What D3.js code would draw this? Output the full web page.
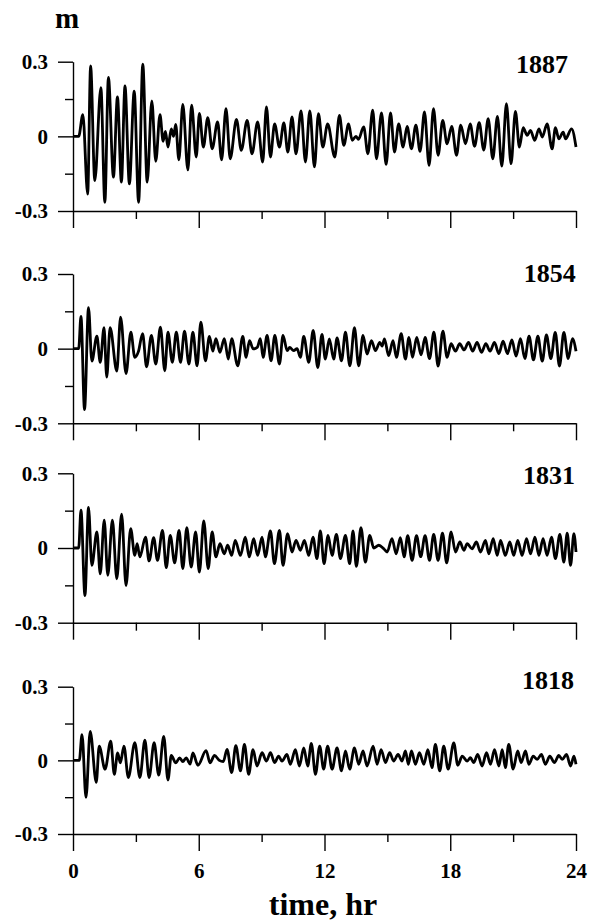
<!DOCTYPE html>
<html lang="en">
<head>
<meta charset="UTF-8">
<title>Simulated tide records, four panels</title>
<script src="https://d3js.org/d3.v7.min.js"></script>
<style>
  body { margin: 0; background: #fff; overflow: hidden; }
  text { font-family: "Liberation Serif", "Times New Roman", serif; font-weight: bold; fill: #000; }
  .trace { fill: none; stroke: #000; stroke-width: 2.8; stroke-linejoin: round; }
</style>
</head>
<body>
<svg width="589" height="922"></svg>
<script>
// panel names (years) top to bottom
var panelNames = ["1887", "1854", "1831", "1818"];

// readings [hour, metres], peaks and troughs
var tide1887 = [[0,0],[0.27,0],[0.47,0.087],[0.70,-0.232],[0.84,0.283],[1.04,-0.178],[1.33,0.196],[1.52,-0.265],[1.69,0.237],[1.93,-0.164],[2.12,0.159],[2.31,-0.184],[2.48,0.203],[2.69,-0.191],[2.92,0.182],[3.13,-0.265],[3.33,0.290],[3.54,-0.184],[3.76,0.142],[3.95,-0.10],[4.15,0.087],[4.30,-0.02],[4.41,0.02],[4.53,-0.043],[4.69,0.03],[4.80,0.0],[4.90,0.048],[5.05,-0.094],[5.24,0.128],[5.48,-0.135],[5.66,0.125],[5.88,-0.083],[6.03,0.092],[6.22,-0.043],[6.43,0.075],[6.64,-0.05],[6.90,0.058],[7.09,-0.094],[7.30,0.111],[7.50,-0.09],[7.80,0.068],[8.03,-0.056],[8.31,0.064],[8.54,-0.07],[8.81,0.058],[9.05,-0.103],[9.23,0.118],[9.42,-0.083],[9.62,0.05],[9.85,-0.043],[10.06,0.054],[10.25,-0.063],[10.45,0.078],[10.64,-0.07],[10.88,0.102],[11.09,-0.103],[11.30,0.102],[11.52,-0.123],[11.71,0.091],[11.92,-0.043],[12.15,0.05],[12.49,-0.083],[12.71,0.084],[12.92,-0.036],[13.15,0.05],[13.32,-0.016],[13.50,0.0],[13.62,-0.012],[13.87,0.038],[14.07,-0.07],[14.30,0.105],[14.48,-0.09],[14.72,0.094],[14.94,-0.113],[15.15,0.094],[15.34,-0.063],[15.54,0.05],[15.75,-0.043],[15.94,0.04],[16.15,-0.05],[16.36,0.045],[16.56,-0.06],[16.77,0.098],[16.99,-0.117],[17.20,0.111],[17.42,-0.076],[17.64,0.064],[17.85,-0.03],[18.07,0.04],[18.30,-0.076],[18.50,0.045],[18.73,-0.03],[18.95,0.05],[19.16,-0.04],[19.38,0.055],[19.60,-0.055],[19.81,0.071],[20.03,-0.09],[20.25,0.08],[20.46,-0.12],[20.68,0.131],[20.90,-0.11],[21.11,0.10],[21.30,-0.043],[21.48,0.035],[21.67,0.004],[21.83,0.024],[22.03,-0.016],[22.23,0.03],[22.39,-0.003],[22.62,0.05],[22.86,-0.05],[23.02,0.035],[23.18,-0.01],[23.39,0.017],[23.50,-0.01],[23.79,0.03],[24.0,-0.043]];

var tide1854 = [[0,0],[0.27,0],[0.38,0.13],[0.55,-0.245],[0.74,0.165],[0.90,-0.05],[1.14,0.05],[1.30,-0.055],[1.48,0.084],[1.61,-0.114],[1.77,0.084],[2.09,-0.09],[2.27,0.127],[2.53,-0.10],[2.76,0.066],[2.95,-0.035],[3.12,-0.012],[3.32,0.06],[3.51,-0.073],[3.74,0.053],[3.95,-0.062],[4.17,0.086],[4.38,-0.089],[4.53,0.066],[4.74,-0.055],[4.93,0.066],[5.13,-0.055],[5.32,0.07],[5.53,-0.062],[5.72,0.066],[5.92,-0.069],[6.10,0.107],[6.32,-0.049],[6.51,0.049],[6.67,-0.01],[6.82,0.04],[7.01,-0.015],[7.22,0.04],[7.41,-0.042],[7.57,0.04],[7.86,-0.069],[8.10,0.049],[8.26,-0.035],[8.42,0.032],[8.60,-0.001],[8.79,0.005],[8.94,0.04],[9.07,-0.035],[9.26,0.053],[9.45,-0.049],[9.63,0.053],[9.85,-0.062],[10.02,0.053],[10.22,-0.008],[10.34,0.005],[10.53,-0.008],[10.69,0.0],[10.85,-0.035],[11.01,0.049],[11.25,-0.055],[11.46,0.073],[11.68,-0.076],[11.88,0.057],[12.04,-0.042],[12.23,0.039],[12.44,-0.042],[12.60,0.043],[12.81,-0.049],[13.00,0.066],[13.21,-0.069],[13.43,0.084],[13.63,-0.069],[13.84,0.053],[14.03,-0.022],[14.24,0.032],[14.43,-0.008],[14.64,0.025],[14.75,0.01],[14.86,0.039],[15.06,-0.028],[15.27,0.032],[15.43,-0.035],[15.66,0.06],[15.86,-0.042],[16.03,0.045],[16.20,-0.035],[16.40,0.045],[16.61,-0.025],[16.80,0.045],[17.01,-0.04],[17.22,0.066],[17.42,-0.07],[17.65,0.07],[17.85,-0.035],[18.04,0.02],[18.25,-0.01],[18.45,0.02],[18.66,-0.005],[18.87,0.025],[19.07,-0.01],[19.28,0.025],[19.49,-0.015],[19.70,0.02],[19.90,-0.01],[20.11,0.025],[20.32,-0.02],[20.52,0.03],[20.73,-0.02],[20.94,0.035],[21.14,-0.03],[21.35,0.04],[21.56,-0.04],[21.76,0.05],[21.97,-0.045],[22.18,0.05],[22.39,-0.05],[22.59,0.055],[22.80,-0.04],[23.01,0.065],[23.21,-0.07],[23.42,0.065],[23.63,-0.04],[23.83,0.04],[24.0,-0.01]];

var tide1831 = [[0,0],[0.27,0],[0.38,0.152],[0.57,-0.191],[0.74,0.163],[0.90,-0.07],[1.14,0.065],[1.30,-0.104],[1.49,0.112],[1.66,-0.11],[1.88,0.112],[2.09,-0.124],[2.32,0.136],[2.53,-0.151],[2.75,0.078],[2.95,-0.03],[3.06,0.017],[3.19,-0.036],[3.46,0.044],[3.63,-0.052],[3.85,0.042],[4.03,-0.05],[4.27,0.071],[4.45,-0.079],[4.64,0.051],[4.85,-0.06],[5.06,0.071],[5.24,-0.083],[5.43,0.082],[5.64,-0.077],[5.85,0.065],[6.03,-0.097],[6.24,0.109],[6.45,-0.083],[6.64,0.065],[6.82,-0.036],[7.01,0.017],[7.22,-0.023],[7.38,0.011],[7.57,-0.03],[7.74,0.031],[7.99,-0.03],[8.22,0.044],[8.41,-0.036],[8.62,0.038],[8.81,-0.03],[9.02,0.044],[9.18,-0.036],[9.42,0.069],[9.61,-0.063],[9.85,0.071],[10.02,-0.07],[10.24,0.058],[10.45,-0.016],[10.64,0.031],[10.85,-0.009],[11.04,0.031],[11.25,-0.03],[11.45,0.044],[11.64,-0.043],[11.80,0.069],[11.98,-0.063],[12.17,0.051],[12.36,-0.03],[12.57,0.055],[12.76,-0.043],[13.00,0.051],[13.20,-0.063],[13.36,0.069],[13.52,-0.074],[13.74,0.082],[13.95,-0.057],[14.16,0.051],[14.35,0.0],[14.59,0.011],[14.83,-0.003],[14.99,-0.016],[15.22,0.038],[15.42,-0.023],[15.62,0.042],[15.80,-0.036],[15.97,0.05],[16.18,-0.05],[16.39,0.05],[16.59,-0.035],[16.80,0.05],[17.01,-0.05],[17.21,0.055],[17.42,-0.05],[17.63,0.06],[17.83,-0.06],[18.04,0.065],[18.25,-0.016],[18.46,0.024],[18.65,-0.009],[18.81,0.017],[19.04,-0.003],[19.25,0.024],[19.44,-0.016],[19.68,0.031],[19.84,-0.023],[20.05,0.038],[20.24,-0.03],[20.40,0.031],[20.63,-0.03],[20.84,0.024],[21.03,-0.03],[21.22,0.031],[21.43,-0.03],[21.64,0.038],[21.83,-0.023],[22.04,0.044],[22.23,-0.03],[22.43,0.038],[22.62,-0.03],[22.83,0.044],[23.02,-0.043],[23.23,0.055],[23.42,-0.057],[23.58,0.06],[23.74,-0.07],[23.90,0.058],[24.0,-0.016]];

var tide1818 = [[0,0],[0.30,0],[0.43,0.105],[0.62,-0.151],[0.82,0.118],[1.11,-0.09],[1.25,0.058],[1.53,-0.036],[1.80,0.078],[1.97,-0.057],[2.13,0.03],[2.26,-0.01],[2.43,0.058],[2.64,-0.07],[2.95,0.072],[3.19,-0.07],[3.43,0.082],[3.63,-0.07],[3.87,0.072],[4.09,-0.06],[4.33,0.098],[4.53,-0.08],[4.69,0.02],[4.90,-0.01],[5.09,0.01],[5.24,-0.005],[5.40,0.01],[5.59,-0.015],[5.72,0.03],[5.96,-0.02],[6.35,0.04],[6.54,-0.01],[6.75,0.02],[6.98,0.0],[7.17,-0.005],[7.35,0.045],[7.57,-0.05],[7.77,0.06],[7.99,-0.043],[8.18,0.065],[8.38,-0.057],[8.59,0.044],[8.78,-0.023],[9.02,0.031],[9.23,-0.003],[9.42,0.031],[9.62,-0.009],[9.81,0.017],[9.97,-0.003],[10.21,0.024],[10.37,-0.016],[10.61,0.044],[10.80,-0.023],[11.01,0.051],[11.20,-0.023],[11.37,0.069],[11.57,-0.057],[11.77,0.058],[11.96,-0.036],[12.15,0.058],[12.36,-0.036],[12.60,0.051],[12.81,-0.043],[13.00,0.038],[13.20,-0.036],[13.43,0.051],[13.63,-0.016],[13.84,0.038],[14.03,-0.023],[14.32,0.058],[14.51,-0.016],[14.70,0.044],[14.91,-0.009],[15.11,0.031],[15.30,-0.003],[15.51,0.024],[15.70,-0.003],[15.86,0.038],[16.00,-0.016],[16.15,0.038],[16.34,-0.016],[16.53,0.031],[16.74,-0.016],[16.93,0.044],[17.13,-0.03],[17.29,0.065],[17.50,-0.043],[17.69,0.058],[17.90,-0.036],[18.17,0.071],[18.36,-0.02],[18.57,0.017],[18.81,-0.003],[18.96,0.011],[19.12,-0.009],[19.31,0.024],[19.52,-0.023],[19.73,0.031],[19.92,-0.016],[20.11,0.044],[20.32,-0.023],[20.48,0.044],[20.63,-0.03],[20.79,0.065],[21.00,-0.036],[21.22,0.038],[21.38,-0.009],[21.59,0.038],[21.75,-0.016],[21.96,0.017],[22.15,0.004],[22.35,0.024],[22.54,-0.016],[22.75,0.017],[22.97,-0.009],[23.18,0.02],[23.34,0.004],[23.55,0.024],[23.74,-0.023],[23.90,0.017],[24.0,-0.016]];

var xTicks = [0, 6, 12, 18, 24];
var xMinorTicks = [3, 9, 15, 21];
var yTicks = [-0.3, 0, 0.3];
var yTickLabels = ["-0.3", "0", "0.3"];
var yMinorTicks = [-0.15, 0.15];

var records = [tide1887, tide1854, tide1831, tide1818];

// layout: top/bottom pixel of each panel, and where each year label sits
var panelTop = [61.7, 274, 473.3, 686.7];
var panelBottom = [211, 423.3, 622.7, 834];
var labelX = [568, 575.7, 575, 574];
var labelY = [73, 281.7, 484, 689];

var svg = d3.select("svg");
var x = d3.scaleLinear().domain([0, 24]).range([73, 576]);

function styleAxis(g) {
  g.attr("font-family", null).attr("font-size", 21);
  g.selectAll("path, line").attr("stroke", "#000").attr("stroke-width", 1.4);
  g.selectAll("text").attr("fill", "#000");
}

panelNames.forEach(function (name, i) {
  var y = d3.scaleLinear().domain([-0.3, 0.3]).range([panelBottom[i], panelTop[i]]);
  var g = svg.append("g");

  // x axis: long ticks every 6 h, short every 3 h
  var xAxis = d3.axisBottom(x).tickValues(xTicks).tickSize(17).tickSizeOuter(0).tickPadding(12);
  if (i < panelNames.length - 1) xAxis.tickFormat("");
  g.append("g")
    .attr("transform", "translate(0," + panelBottom[i] + ")")
    .call(xAxis)
    .call(styleAxis);
  g.append("g")
    .attr("transform", "translate(0," + panelBottom[i] + ")")
    .call(d3.axisBottom(x).tickValues(xMinorTicks).tickSize(8).tickSizeOuter(0).tickFormat(""))
    .call(styleAxis)
    .select(".domain").remove();

  // y axis
  g.append("g")
    .attr("transform", "translate(" + x(0) + ",0)")
    .call(d3.axisLeft(y).tickValues(yTicks).tickSize(15).tickSizeOuter(0).tickPadding(10)
      .tickFormat(function (d, k) { return yTickLabels[k]; }))
    .call(styleAxis);
  g.append("g")
    .attr("transform", "translate(" + x(0) + ",0)")
    .call(d3.axisLeft(y).tickValues(yMinorTicks).tickSize(8).tickSizeOuter(0).tickFormat(""))
    .call(styleAxis)
    .select(".domain").remove();

  var line = d3.line()
    .x(function (d) { return x(d[0]); })
    .y(function (d) { return y(d[1]); })
    .curve(d3.curveMonotoneX);

  g.append("path")
    .datum(records[i])
    .attr("class", "trace")
    .attr("d", line);

  g.append("text")
    .attr("x", labelX[i])
    .attr("y", labelY[i])
    .attr("text-anchor", "end")
    .attr("font-size", 26)
    .text(name);
});

svg.append("text")
  .attr("x", 67)
  .attr("y", 28)
  .attr("text-anchor", "middle")
  .attr("font-size", 29)
  .text("m");

svg.append("text")
  .attr("x", 323)
  .attr("y", 915)
  .attr("text-anchor", "middle")
  .attr("font-size", 32)
  .text("time, hr");
</script>
</body>
</html>
